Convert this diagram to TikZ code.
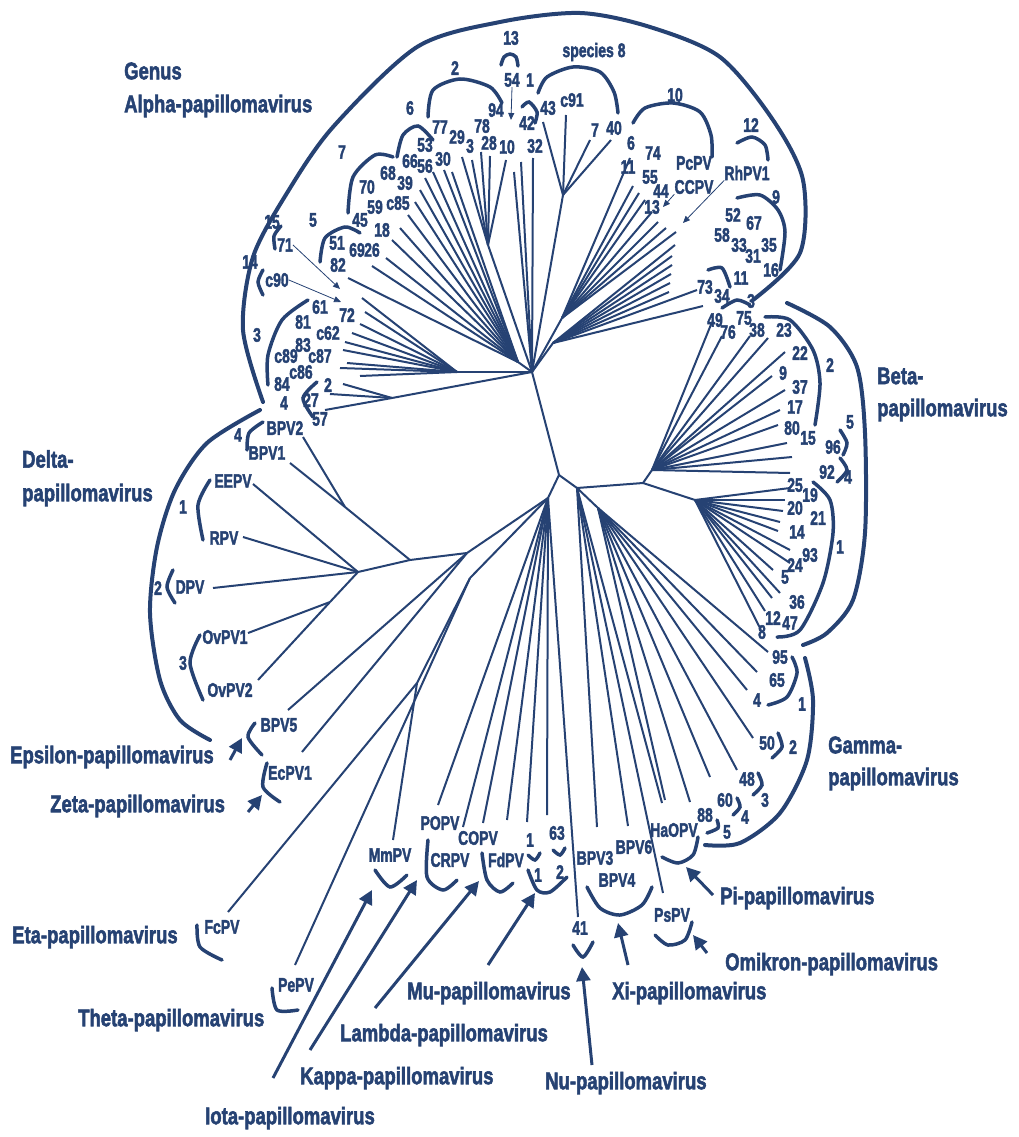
\documentclass[tikz,border=0pt]{standalone}
\usepackage{fontspec}
\setmainfont{Liberation Sans}[BoldFeatures={FakeBold=2.5}]
\usetikzlibrary{arrows.meta}
\definecolor{pvblue}{RGB}{38,66,115}

\begin{document}
\begin{tikzpicture}[
    x=1pt, y=-1pt,
    num/.style={font=\bfseries\fontsize{14}{15}\selectfont, text=pvblue, inner sep=0pt, yscale=1.4},
    genus/.style={font=\bfseries\fontsize{18.5}{20}\selectfont, text=pvblue, inner sep=0pt, yscale=1.3, anchor=west},
    br/.style={draw=pvblue, line width=2pt},
    brk/.style={draw=pvblue, line width=3.5pt, line cap=round},
    clade/.style={draw=pvblue, line width=4pt, line cap=round},
    bigarr/.style={draw=pvblue, line width=3pt, -{Triangle[length=14pt,width=14pt]}},
    thinarr/.style={draw=pvblue, line width=0.8pt, -{Triangle[length=7pt,width=6pt]}}
]
\useasboundingbox (0,0) rectangle (1018,1137);

% inner nodes of the tree
\coordinate (R1) at (532,372);
\coordinate (R2) at (559,475);
\coordinate (AH) at (518,362);
\coordinate (T1) at (488,245);
\coordinate (T3) at (563,195);
\coordinate (T4) at (562,318);
\coordinate (T5) at (553,343);
\coordinate (HL1) at (457,372);
\coordinate (HL2) at (392,398);
\coordinate (G0) at (577,488);
\coordinate (B0) at (643,483);
\coordinate (B1) at (652,470);
\coordinate (B2) at (695,500);
\coordinate (G1) at (598,508);
\coordinate (L0) at (548,498);
\coordinate (E0) at (467,553);
\coordinate (D0) at (410,560);
\coordinate (DB) at (345,507);
\coordinate (D1) at (358,572);
\coordinate (DV) at (330,602);
\coordinate (J1) at (417,683);
\coordinate (J2) at (470,578);

\foreach \a/\b in {R1/R2, AH/R1, T1/R1, T3/R1, T4/R1, T5/R1, HL1/R1, HL2/R1,
    R2/G0, G0/B0, B0/B1, B0/B2, G0/G1, R2/L0, L0/E0, E0/D0, D0/DB,
    D1/D0, DV/D1, J1/J2, J2/L0}
  \draw[br] (\a) -- (\b);

% leaves
\foreach \h/\x/\y [count=\i] in {
    AH/348/278, AH/372/266, AH/386/258, AH/392/240, AH/400/228, AH/408/215,
    AH/415/202, AH/420/190, AH/425/178, AH/433/172, AH/444/170, AH/452/172,
    T1/462/157, T1/472/160, T1/481/152, T1/490/156, T1/506/160,
    R1/514/172, R1/521/162, R1/533/158,
    T3/543/122, T3/566/115, T3/590/140, T3/611/140,
    T4/630/158, T4/633/186, T4/639/193, T4/645/200, T4/652/212, T4/658/222,
    T4/666/228, T4/676/232,
    T5/675/245, T5/672/256, T5/672/265, T5/671/274, T5/670/283, T5/669/292,
    T5/697/290, T5/703/306,
    HL1/362/298, HL1/365/312, HL1/360/324, HL1/352/333, HL1/345/342,
    HL1/343/350, HL1/347/363, HL1/340/368, HL1/360/376,
    HL2/343/384, HL2/330/394, HL2/325/410,
    B1/712/322, B1/722/336, B1/750/336, B1/768/338, B1/785/352, B1/772/376,
    B1/785/390, B1/780/410, B1/778/425, B1/787/443, B1/792/457, B1/790/473,
    B2/790/488, B2/785/500, B2/783/511, B2/780/522, B2/778/531, B2/790/550,
    B2/790/563, B2/773/570, B2/780/593, B2/772/598, B2/765/611, B2/760/628,
    G1/768/652, G1/757/672, G1/747/690,
    G1/753/738, G1/737/770, G1/710/777, G1/690/802, G1/665/800,
    G0/597/827, G0/628/826, G0/662/803, G0/663/893,
    L0/438/805, L0/463/827, L0/483/823, L0/507/820, L0/527/822, L0/547/815,
    L0/578/917,
    J1/228/912, J1/393/840, J2/295/965,
    DB/303/437, DB/290/463,
    D1/253/484, D1/243/537, D1/213/588,
    DV/248/633, DV/258/680,
    E0/288/710, E0/302/752}
{
  \coordinate (t\i) at (\x,\y);
  \draw[br] (\h) -- (t\i);
}

% genus outlines
\draw[clade] plot[smooth] coordinates {(263,402) (243,330) (253,257) (287,193)
    (333,127) (417,47) (500,22) (580,13) (650,27) (720,57) (773,120) (803,180)
    (800,253) (753,300)};
\draw[clade] plot[smooth] coordinates {(787,303) (830,327) (857,367) (865,433)
    (865,533) (853,600) (827,633) (803,645)};
\draw[clade] plot[smooth] coordinates {(805,658) (813,700) (807,760) (780,813)
    (740,843) (705,845)};
\draw[clade] plot[smooth] coordinates {(260,410) (207,443) (175,490) (157,547)
    (150,613) (160,680) (180,720) (210,740)};

% species brackets
\foreach \pts in {
    {(428,117) (433,90) (460,79) (490,87) (502,103)},
    {(501,65) (504,57) (510,54) (516,57) (518,66)},
    {(522,107) (529,102) (537,112) (535,123)},
    {(538,93) (547,77) (573,67) (600,72) (614,92) (618,113)},
    {(633,123) (645,108) (673,103) (700,112) (711,135) (712,157)},
    {(737,143) (752,137) (765,145) (768,160)},
    {(737,198) (760,195) (778,210) (785,232) (780,270)},
    {(708,270) (722,268) (730,287)},
    {(722,308) (737,300) (750,305)},
    {(397,157) (403,135) (418,126) (433,140)},
    {(348,213) (353,177) (375,155) (393,157)},
    {(320,262) (325,238) (345,227) (360,233)},
    {(281,226) (274,236) (275,249)},
    {(263,270) (258,282) (263,295)},
    {(308,300) (282,320) (268,355) (268,385)},
    {(317,382) (303,398) (313,417)},
    {(263,422) (249,433) (247,450)},
    {(210,480) (198,505) (203,540)},
    {(173,570) (167,587) (175,603)},
    {(200,635) (190,663) (203,700)},
    {(255,723) (248,737) (262,755)},
    {(267,763) (263,787) (280,802)},
    {(197,925) (200,947) (222,960)},
    {(272,988) (277,1010) (298,1010)},
    {(375,870) (390,887) (407,875)},
    {(428,840) (427,877) (443,890) (457,880)},
    {(482,853) (487,880) (500,892) (513,883)},
    {(528,855) (535,860) (540,853)},
    {(553,850) (560,855) (565,848)},
    {(528,870) (537,890) (550,892) (567,877)},
    {(573,945) (583,957) (593,942)},
    {(587,887) (600,908) (620,915) (642,905) (652,887)},
    {(698,837) (693,855) (678,863) (662,857)},
    {(692,922) (685,940) (668,945) (655,935)},
    {(792,657) (797,673) (787,697) (768,705)},
    {(778,733) (782,747) (772,758)},
    {(758,773) (762,785) (753,795)},
    {(737,798) (740,807) (733,815)},
    {(717,820) (718,828) (707,833)},
    {(765,317) (790,320) (813,350) (820,383) (815,425)},
    {(840,430) (847,443) (843,455)},
    {(840,458) (847,470) (837,482)},
    {(813,482) (830,500) (833,533) (823,583) (800,630) (777,637)}}
  \draw[brk] plot[smooth] coordinates \pts;

% labels, Alpha
\foreach \t/\x/\y [count=\i] in {2/455/68, 13/511/38, 54/512/80, 1/530/80,
    c91/572/100, 43/548/108, 42/527/123, 94/496/110, 77/440/127, 78/482/126,
    29/457/137, 3/470/146, 28/489/143, 10/507/147, 32/535/146, 7/595/130,
    40/614/128, 10/675/95, 6/631/143, 11/628/167, 74/653/153, 55/650/177,
    44/661/191, 13/652/207, PcPV/694/163, CCPV/694/187, RhPV1/747/173,
    12/751/125, 9/776/197, 52/733/215, 67/754/223, 58/722/235, 33/739/245,
    31/753/256, 35/769/245, 16/771/270, 11/741/278, 73/705/287, 34/722/296,
    3/751/301, 49/715/320, 76/728/332, 75/744/318, 38/757/330, 23/784/330,
    6/410/108, 66/410/161, 53/425/145, 56/425/166, 30/443/159, 7/342/152,
    70/367/187, 68/388/173, 59/375/207, 45/360/220, 39/405/183, c85/398/203,
    18/382/230, 5/313/220, 51/337/243, 82/338/265, 69/357/250, 26/372/250,
    15/272/222, 71/285/245, 14/250/262, c90/277/280, 61/320/307, 81/303/322,
    72/347/315, c62/328/333, 3/257/335, 83/303/345, c87/320/356, c89/286/356,
    c86/301/372, 84/282/384, 2/328/385, 27/311/400, 57/320/419, 4/284/403}
  \node[num] (al\i) at (\x,\y) {\t};
\node[num] (sp8) at (594,52) {species 8};

% labels, Delta to Pi
\foreach \t/\x/\y [count=\i] in {BPV2/285/428, 4/238/435, BPV1/267/453,
    EEPV/233/481, 1/183/507, RPV/224/538, 2/158/588, DPV/190/587,
    OvPV1/225/637, 3/183/663, OvPV2/230/690, BPV5/279/725, EcPV1/290/773,
    FcPV/222/927, PePV/296/985, MmPV/390/855, POPV/440/823, COPV/478/838,
    CRPV/450/860, FdPV/506/860, 1/530/840, 63/557/833, 1/538/875, 2/560/872,
    41/580/928, BPV3/595/858, BPV6/634/847, BPV4/617/880, HaOPV/674/830,
    PsPV/672/915}
  \node[num] (ol\i) at (\x,\y) {\t};

% labels, Beta and Gamma
\foreach \t/\x/\y [count=\i] in {22/800/353, 2/830/365, 9/783/373, 37/800/387,
    17/795/407, 80/792/428, 15/808/438, 5/850/422, 96/833/447, 92/827/472,
    4/848/477, 25/795/485, 19/810/495, 20/795/508, 21/818/518, 14/797/532,
    1/840/547, 93/810/555, 24/795/565, 5/785/577, 36/797/602, 12/773/618,
    47/790/623, 8/762/632, 95/780/657, 65/777/680, 4/757/700, 1/802/704,
    50/767/743, 2/793/747, 48/747/779, 3/765/800, 60/725/800, 4/745/817,
    88/705/815, 5/727/832}
  \node[num] (bl\i) at (\x,\y) {\t};

% genus names
\node[genus] (alphaA) at (124,71) {Genus};
\node[genus] (alphaB) at (124,106) {Alpha-papillomavirus};
\node[genus] (betaA) at (877,376) {Beta-};
\node[genus] (betaB) at (877,410) {papillomavirus};
\node[genus] (gammaA) at (828,745) {Gamma-};
\node[genus] (gammaB) at (828,779) {papillomavirus};
\node[genus] (deltaA) at (22,459) {Delta-};
\node[genus] (deltaB) at (22,495) {papillomavirus};
\node[genus] (eps) at (10,757) {Epsilon-papillomavirus};
\node[genus] (zeta) at (50,806) {Zeta-papillomavirus};
\node[genus] (eta) at (12,937) {Eta-papillomavirus};
\node[genus] (theta) at (78,1020) {Theta-papillomavirus};
\node[genus] (iota) at (205,1118) {Iota-papillomavirus};
\node[genus] (kappa) at (300,1078) {Kappa-papillomavirus};
\node[genus] (lambda) at (340,1035) {Lambda-papillomavirus};
\node[genus] (mu) at (407,993) {Mu-papillomavirus};
\node[genus] (nu) at (545,1083) {Nu-papillomavirus};
\node[genus] (xi) at (612,993) {Xi-papillomavirus};
\node[genus] (omi) at (725,964) {Omikron-papillomavirus};
\node[genus] (pi) at (720,898) {Pi-papillomavirus};

% pointers
\foreach \n/\tx/\ty/\hx/\hy in {eps/230/760/242/738, zeta/248/812/262/795,
    iota/273/1078/372/890, kappa/310/1050/417/880, lambda/375/1008/479/881,
    mu/488/965/535/893, nu/592/1065/582/967, xi/628/965/618/923,
    omi/707/953/693/935, pi/713/895/686/867}
{
  \coordinate (\n T) at (\tx,\ty);
  \coordinate (\n H) at (\hx,\hy);
  \draw[bigarr] (\n T) -- (\n H);
}
\coordinate (p71) at (340,289);
\coordinate (pc90) at (341,302);
\coordinate (p54) at (511,120);
\coordinate (pRh) at (683,223);
\coordinate (p13) at (663,207);
\draw[thinarr] (al65.east) -- (p71);
\draw[thinarr] (al67.east) -- (pc90);
\draw[thinarr] (al3.south) -- (p54);
\draw[thinarr] (al27.south west) -- (pRh);
\draw[thinarr] (al26.south west) -- (p13);
\end{tikzpicture}
\end{document}
